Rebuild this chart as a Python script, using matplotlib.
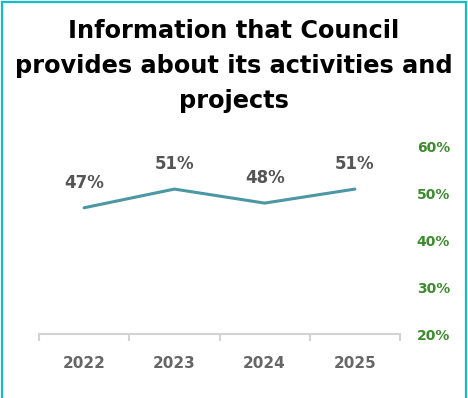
import matplotlib
matplotlib.use("Agg")
import matplotlib.pyplot as plt
from matplotlib.patches import Rectangle
from matplotlib.ticker import FixedLocator

# survey results
years = ["2022", "2023", "2024", "2025"]
scores = [47, 51, 48, 51]
y_ticks = [20, 30, 40, 50, 60]

title = "Information that Council\nprovides about its activities and\nprojects"

W, H = 468, 398
fig = plt.figure(figsize=(W / 100, H / 100), dpi=100)
fig.patch.set_facecolor("white")

# axes placed in pixel terms: x from 39 to 400, 20%..60% from y=334 to y=147
ax = fig.add_axes([39 / W, (H - 334) / H, (400 - 39) / W, (334 - 147) / H])

x = list(range(len(years)))
ax.plot(x, scores, color="#4b97a3", linewidth=2.2, solid_capstyle="round")
for xi, v in zip(x, scores):
    ax.annotate(f"{v}%", (xi, v), xytext=(0, 18), textcoords="offset points",
                ha="center", va="center", fontsize=12, fontweight="bold",
                color="#555555")

ax.set_xlim(-0.5, len(years) - 0.5)
ax.set_ylim(20, 60)

for s in ["top", "left", "right"]:
    ax.spines[s].set_visible(False)
ax.spines["bottom"].set_color("#d3d3d3")
ax.spines["bottom"].set_linewidth(1.5)

ax.set_xticks(x)
ax.set_xticklabels(years, fontsize=11, fontweight="bold", color="#666666")
ax.xaxis.set_minor_locator(FixedLocator([i - 0.5 for i in range(len(years) + 1)]))
ax.tick_params(axis="x", which="major", length=0, pad=16)
ax.tick_params(axis="x", which="minor", length=5, width=1.5, color="#d3d3d3")

ax.yaxis.tick_right()
ax.set_yticks(y_ticks)
ax.set_yticklabels([f"{t}%" for t in y_ticks], fontsize=10, fontweight="bold",
                   color="#3d8b2f")
ax.tick_params(axis="y", length=0, pad=12)

fig.text(0.5, 1 - 19 / H, title, ha="center", va="top", fontsize=17.3,
         fontweight="bold", color="black", linespacing=1.58)

# cyan frame, open at the bottom
fig.add_artist(Rectangle((2 / W, -0.05), (464 / W), 1.05 - 2 / H,
                         transform=fig.transFigure, fill=False,
                         edgecolor="#13bccd", linewidth=1.6))

fig.savefig("out.png", dpi=100, facecolor="white")
